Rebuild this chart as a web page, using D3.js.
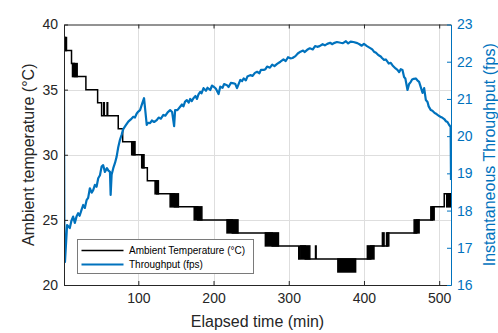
<!DOCTYPE html>
<html>
<head>
<meta charset="utf-8">
<script src="https://cdn.jsdelivr.net/npm/d3@7"></script>
<style>
  body { margin: 0; background: #fff; }
  text { font-family: "Liberation Sans", Arial, Helvetica, sans-serif; }
</style>
</head>
<body>
<svg id="chart" width="498" height="333"></svg>
<script>
    // Ambient temperature staircase (minute, °C), step-after
    const tempTimes  = [1.2, 3, 11.2, 15, 30.3, 45.9, 51.2, 54, 54.8, 58.5, 59.3, 73.3, 79.2, 93, 106, 112, 124.5, 148, 179, 225, 278, 313.3, 314.2, 322, 335.6, 336.4, 409, 431.5, 470, 491, 506.7, 517];
    const tempValues = [39, 38, 37, 36, 35, 34, 33, 34, 33, 34, 33, 32, 31, 30, 29, 28, 27, 26, 25, 24, 23, 22, 23, 22, 23, 22, 23, 24, 25, 26, 27, 27];

    // Periods where the sensor toggled quickly between two levels
    const flickStart = [1.2, 12.5, 91.2, 104.5, 122.3, 142.3, 174.3, 217.9, 268.9, 316, 365.3, 404.5, 424.5, 430, 466.7, 488.9, 510];
    const flickEnd   = [4.5, 18.7, 95.6, 107.6, 126.7, 153.3, 184.5, 232.5, 286.3, 328, 388.9, 413.3, 426.7, 433, 473.3, 493.3, 517];
    const flickLow   = [38, 36, 30, 29, 27, 26, 25, 24, 23, 22, 21, 22, 23, 23, 24, 25, 26];
    const flickHigh  = [39, 37, 31, 30, 28, 27, 26, 25, 24, 23, 22, 23, 24, 24, 25, 26, 27];

    // Instantaneous throughput (minute, fps)
    const fpsTimes = [
        1.2, 1.8, 2.5, 5.3, 8.9, 11, 13.3, 15.6, 18, 20, 22, 24.5, 26.7, 28.9, 31.2, 33.3, 35.6, 38, 40, 42.3, 44.5, 46.7, 49, 51.2, 53.3, 55.6, 58.3, 60, 62.3, 63.2, 64.5, 66.7, 69, 71.2, 73.3, 75.6, 78, 80, 83, 86.7, 90, 93.3, 95.5, 97.9, 100, 102.3, 104.9, 107.6,
        111.2, 113, 115.6, 118, 121, 124.5, 127, 130, 133.3, 136, 139, 142.3, 144.9, 147.6, 148.9, 152, 155.6, 158, 160, 162, 164.5, 167, 169, 171, 173.3, 176, 178, 180, 182.3, 184, 186.7, 190, 192, 195.6, 198, 200, 203, 206.7, 208.9, 212, 214, 217.9, 220, 223, 226.7, 229, 231.2, 235.6, 238, 240, 243, 245, 248.9,
        252, 255, 257.9, 261, 263, 266.7, 269, 271.2, 275, 278, 281, 284.5, 288.9, 293, 296, 299, 302.3, 305, 308.9, 312, 315.6, 319, 321, 324.5, 328, 332, 335, 337.9, 341, 345, 348, 351.2, 355, 358, 360, 364, 368.9, 372, 376, 379, 382.3, 386, 391.2, 394, 397, 400, 404,
        408.9, 411, 413.3, 416, 419, 422.3, 424, 426.7, 429, 431.2, 433, 435.6, 438, 440, 442, 444.5, 446.7, 449, 451.2, 453.3, 455, 457.9, 460, 462.3, 464, 466.3, 468.9, 471, 473.3, 475, 477.9, 480, 482.3, 484.5, 486, 488.9, 491, 494, 496, 497.9, 500, 502.3, 504, 506.7, 509, 511, 513.3, 515.2, 515.7];
    const fpsValues = [
        21.24, 16.67, 16.62, 17.61, 17.53, 17.72, 17.84, 17.67, 17.85, 17.93, 17.86, 18.02, 18.15, 18.07, 18.28, 18.34, 18.6, 18.48, 18.55, 18.69, 18.64, 18.87, 18.95, 19.18, 19.22, 19.04, 19.14, 19.08, 19.04, 18.42, 18.96, 19.14, 19.28, 19.45, 19.7, 19.9, 20.05, 20.19, 20.28, 20.39, 20.45, 20.52, 20.5, 20.61, 20.66, 20.7, 20.86, 21.02,
        20.3, 20.36, 20.35, 20.42, 20.38, 20.43, 20.5, 20.47, 20.57, 20.55, 20.64, 20.7, 20.65, 20.27, 20.7, 20.7, 20.79, 20.85, 20.8, 20.92, 20.97, 20.9, 21.0, 20.94, 21.02, 21.08, 21.0, 21.12, 21.19, 21.15, 21.29, 21.22, 21.3, 21.24, 21.36, 21.33, 21.28, 21.13, 21.33, 21.3, 21.4, 21.37, 21.32, 21.43, 21.42, 21.4, 21.29, 21.51, 21.48, 21.55, 21.5, 21.6, 21.64,
        21.62, 21.7, 21.73, 21.69, 21.78, 21.78, 21.8, 21.87, 21.84, 21.92, 21.88, 21.94, 22.0, 22.06, 22.02, 22.12, 22.09, 22.1, 22.15, 22.22, 22.27, 22.3, 22.26, 22.32, 22.36, 22.33, 22.42, 22.4, 22.42, 22.47, 22.44, 22.48, 22.51, 22.47, 22.5, 22.53, 22.51, 22.5, 22.55, 22.49, 22.54, 22.53, 22.5, 22.47, 22.43, 22.48, 22.42,
        22.36, 22.33, 22.27, 22.24, 22.18, 22.14, 22.1, 22.05, 22.06, 22.0, 21.95, 21.97, 21.9, 21.86, 21.82, 21.78, 21.72, 21.8, 21.78, 21.59, 21.55, 21.24, 21.4, 21.46, 21.52, 21.54, 21.55, 21.5, 21.46, 21.35, 21.16, 21.29, 20.97, 20.92, 20.8, 20.7, 20.68, 20.62, 20.6, 20.57, 20.54, 20.51, 20.5, 20.46, 20.4, 20.38, 20.3, 20.25, 18.82];

    const xTicks = [100, 200, 300, 400, 500];
    const tempTicks = [20, 25, 30, 35, 40];
    const fpsTicks = [16, 17, 18, 19, 20, 21, 22, 23];

    const axisColor = "#262626";
    const blue = "#0072BD";

    const plotLeft = 64, plotRight = 451, plotTop = 24.5, plotBottom = 285;

    const x = d3.scaleLinear().domain([1.2, 515.7]).range([plotLeft, plotRight]);
    const yT = d3.scaleLinear().domain([20, 40]).range([plotBottom, plotTop]);
    const yF = d3.scaleLinear().domain([16, 23]).range([plotBottom, plotTop]);

    const svg = d3.select("#chart");

    svg.append("defs").append("clipPath").attr("id", "plot")
      .append("rect")
        .attr("x", plotLeft).attr("y", plotTop)
        .attr("width", plotRight - plotLeft).attr("height", plotBottom - plotTop);

    // grid
    const grid = svg.append("g").attr("stroke", "#dedede").attr("stroke-width", 1);
    grid.selectAll("line.gx").data(xTicks).join("line")
        .attr("x1", d => Math.round(x(d)) + 0.5).attr("x2", d => Math.round(x(d)) + 0.5)
        .attr("y1", plotTop).attr("y2", plotBottom);
    grid.selectAll("line.gy").data(tempTicks.slice(1, -1)).join("line")
        .attr("y1", d => Math.round(yT(d)) + 0.5).attr("y2", d => Math.round(yT(d)) + 0.5)
        .attr("x1", plotLeft).attr("x2", plotRight);

    const plot = svg.append("g").attr("clip-path", "url(#plot)");

    // temperature toggle bands
    const flicks = flickStart.map((s, i) => ({ s, e: flickEnd[i], lo: flickLow[i], hi: flickHigh[i] }));
    plot.append("g")
        .attr("fill", "#000").attr("stroke", "#000").attr("stroke-width", 1.5)
      .selectAll("rect")
      .data(flicks)
      .join("rect")
        .attr("x", d => x(d.s))
        .attr("width", d => x(d.e) - x(d.s))
        .attr("y", d => yT(d.hi))
        .attr("height", d => yT(d.lo) - yT(d.hi));

    const temps = tempTimes.map((t, i) => [t, tempValues[i]]);
    plot.append("path")
        .datum(temps)
        .attr("fill", "none")
        .attr("stroke", "#000")
        .attr("stroke-width", 1.5)
        .attr("d", d3.line().x(d => x(d[0])).y(d => yT(d[1])).curve(d3.curveStepAfter));

    const fps = fpsTimes.map((t, i) => [t, fpsValues[i]]);
    plot.append("path")
        .datum(fps)
        .attr("fill", "none")
        .attr("stroke", blue)
        .attr("stroke-width", 2.2)
        .attr("stroke-linejoin", "round")
        .attr("d", d3.line().x(d => x(d[0])).y(d => yF(d[1])));

    // axes
    function style(g, color) {
        g.selectAll("path.domain").attr("stroke", color);
        g.selectAll(".tick line").attr("stroke", color);
        g.selectAll(".tick text").attr("fill", color).attr("font-size", 14)
            .attr("font-family", "Liberation Sans, Arial, sans-serif");
    }

    svg.append("g")
        .attr("transform", `translate(0,${plotBottom})`)
        .call(d3.axisBottom(x).tickValues(xTicks).tickSize(-4).tickSizeOuter(0).tickPadding(8))
        .call(g => style(g, axisColor));

    svg.append("g")
        .attr("transform", `translate(0,${plotTop})`)
        .call(d3.axisTop(x).tickValues(xTicks).tickSize(-4).tickSizeOuter(0).tickFormat(""))
        .call(g => style(g, axisColor));

    svg.append("g")
        .attr("transform", `translate(${plotLeft},0)`)
        .call(d3.axisLeft(yT).tickValues(tempTicks).tickSize(-4).tickSizeOuter(0).tickPadding(6))
        .call(g => style(g, axisColor));

    svg.append("g")
        .attr("transform", `translate(${plotRight},0)`)
        .call(d3.axisRight(yF).tickValues(fpsTicks).tickFormat(d3.format("d")).tickSize(-4).tickSizeOuter(0).tickPadding(6))
        .call(g => style(g, blue));

    // axis titles
    svg.append("text")
        .attr("x", (plotLeft + plotRight) / 2).attr("y", 327)
        .attr("text-anchor", "middle")
        .attr("font-size", 16).attr("fill", axisColor)
        .text("Elapsed time (min)");

    svg.append("text")
        .attr("transform", `translate(34,${(plotTop + plotBottom) / 2}) rotate(-90)`)
        .attr("text-anchor", "middle")
        .attr("font-size", 16).attr("fill", axisColor)
        .text("Ambient temperature (°C)");

    svg.append("text")
        .attr("transform", `translate(495,${(plotTop + plotBottom) / 2}) rotate(-90)`)
        .attr("text-anchor", "middle")
        .attr("font-size", 16).attr("fill", blue)
        .text("Instantaneous Throughput (fps)");

    // legend
    const legendItems = [
        { label: "Ambient Temperature (°C)", color: "#000", width: 1.5 },
        { label: "Throughput (fps)", color: blue, width: 2 }
    ];
    const legend = svg.append("g").attr("transform", "translate(77.5,239.5)");
    legend.append("rect")
        .attr("width", 176).attr("height", 34)
        .attr("fill", "#fff").attr("stroke", "#7a7a7a").attr("stroke-width", 1);
    const li = legend.selectAll("g.item").data(legendItems).join("g")
        .attr("transform", (d, i) => `translate(0,${11 + i * 14})`);
    li.append("line")
        .attr("x1", 4).attr("x2", 46)
        .attr("stroke", d => d.color).attr("stroke-width", d => d.width);
    li.append("text")
        .attr("x", 51.5).attr("dy", "0.35em")
        .attr("font-size", 10).attr("fill", "#000")
        .text(d => d.label);
</script>
</body>
</html>
